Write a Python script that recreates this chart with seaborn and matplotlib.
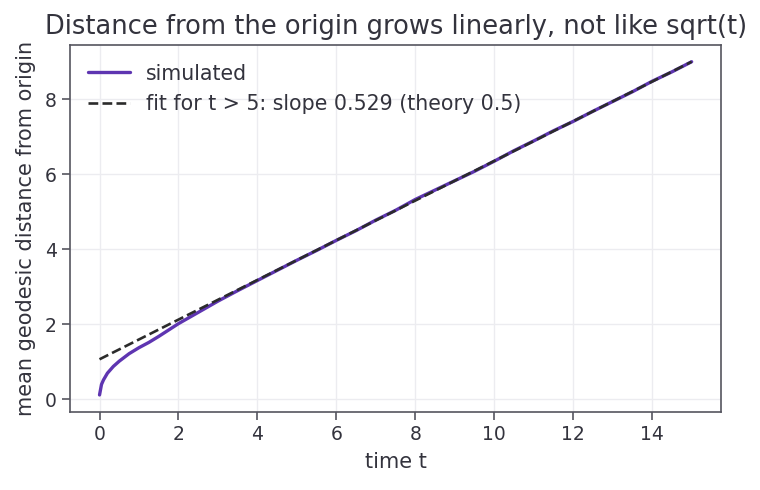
import matplotlib
matplotlib.use("Agg")
import pandas as pd
import seaborn as sns
import matplotlib.pyplot as plt

# simulated mean distance
time_t = [0.0, 0.05, 0.1, 0.2, 0.35, 0.5, 0.75, 1.0, 1.25, 1.5, 1.75, 2.0, 2.5,
          3.0, 3.5, 4.0, 4.5, 5.0, 5.5, 6.0, 6.5, 7.0, 7.5, 8.0, 8.5, 9.0,
          9.5, 10.0, 10.5, 11.0, 11.5, 12.0, 12.5, 13.0, 13.5, 14.0, 14.5, 15.0]
mean_dist = [0.12, 0.40, 0.52, 0.70, 0.88, 1.02, 1.22, 1.38, 1.52, 1.68, 1.85, 2.02, 2.32,
             2.62, 2.90, 3.17, 3.44, 3.71, 3.97, 4.24, 4.50, 4.78, 5.04, 5.33, 5.58, 5.83,
             6.08, 6.35, 6.63, 6.89, 7.16, 7.41, 7.68, 7.94, 8.20, 8.48, 8.73, 9.00]

# fitted line endpoints
fit_t = [0.0, 15.0]
fit_d = [1.07, 9.00]
fit_label = "fit for t > 5: slope 0.529 (theory 0.5)"

text_col = "#33333d"
edge_col = "#55555f"

sns.set_theme(style="ticks")
plt.rcParams.update({
    "font.family": ["DejaVu Sans"],
    "text.color": text_col,
    "axes.labelcolor": text_col,
    "xtick.color": edge_col,
    "ytick.color": edge_col,
    "xtick.labelcolor": text_col,
    "ytick.labelcolor": text_col,
    "axes.edgecolor": edge_col,
})

sim = pd.DataFrame({"t": time_t, "d": mean_dist})
fit = pd.DataFrame({"t": fit_t, "d": fit_d})

fig, ax = plt.subplots(figsize=(7.6, 4.9), dpi=100)
sns.lineplot(data=sim, x="t", y="d", ax=ax, color="#5E35B1", lw=2.4, label="simulated")
sns.lineplot(data=fit, x="t", y="d", ax=ax, color="#2b2b2b", lw=1.9, ls="--", label=fit_label)

ax.grid(True, color="#ececf0", lw=1)
ax.set_axisbelow(True)
for s in ax.spines.values():
    s.set_visible(True)
    s.set_linewidth(1.2)

ax.set_xticks([0, 2, 4, 6, 8, 10, 12, 14])
ax.set_yticks([0, 2, 4, 6, 8])
ax.tick_params(labelsize=13.5, length=6, width=1.2)
ax.set_xlabel("time t", fontsize=15, labelpad=6)
ax.set_ylabel("mean geodesic distance from origin", fontsize=15, labelpad=6)
ax.set_title("Distance from the origin grows linearly, not like sqrt(t)", fontsize=18.5, pad=8)
ax.legend(loc="upper left", frameon=False, fontsize=14.8)

fig.subplots_adjust(left=0.092, right=0.949, top=0.908, bottom=0.16)
fig.savefig("out.png", dpi=100)
